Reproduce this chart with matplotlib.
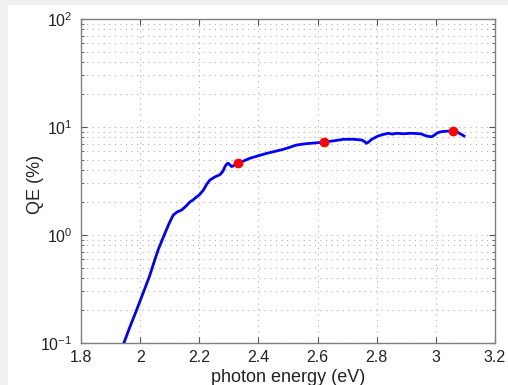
import matplotlib.pyplot as plt
from matplotlib.patches import Rectangle

# QE spectrum (photon energy in eV, QE in %)
energy = [1.945, 1.965, 1.988, 2.010, 2.031, 2.047, 2.061, 2.073, 2.084, 2.098,
          2.112, 2.126, 2.140, 2.155, 2.169, 2.178, 2.186, 2.200, 2.214, 2.225,
          2.236, 2.253, 2.270, 2.280, 2.287, 2.293, 2.298, 2.304, 2.310, 2.320,
          2.330, 2.350, 2.371, 2.400, 2.428, 2.456, 2.484, 2.507, 2.529, 2.560,
          2.603, 2.622, 2.655, 2.687, 2.720, 2.749, 2.758, 2.766, 2.775, 2.783,
          2.795, 2.805, 2.820, 2.839, 2.853, 2.868, 2.890, 2.913, 2.935, 2.952,
          2.960, 2.969, 2.978, 2.986, 2.995, 3.003, 3.012, 3.020, 3.040, 3.059,
          3.068, 3.076, 3.086, 3.095]
qe = [0.100, 0.140, 0.202, 0.290, 0.410, 0.560, 0.730, 0.880, 1.040, 1.280,
      1.530, 1.640, 1.700, 1.850, 2.030, 2.100, 2.200, 2.350, 2.610, 2.950,
      3.230, 3.450, 3.620, 3.900, 4.300, 4.550, 4.610, 4.450, 4.300, 4.450,
      4.610, 4.850, 5.130, 5.420, 5.700, 5.950, 6.210, 6.500, 6.810, 7.000,
      7.160, 7.260, 7.450, 7.690, 7.700, 7.580, 7.350, 7.060, 7.350, 7.690,
      8.000, 8.260, 8.500, 8.750, 8.600, 8.750, 8.650, 8.750, 8.700, 8.620,
      8.400, 8.260, 8.150, 8.130, 8.400, 8.750, 8.950, 9.060, 9.150, 9.250,
      9.150, 8.850, 8.550, 8.260]

# laser lines marked on the spectrum
laser_energy = [2.330, 2.622, 3.059]
laser_qe = [4.61, 7.26, 9.25]

plt.rcParams['font.family'] = ['Liberation Sans', 'DejaVu Sans']
plt.rcParams['mathtext.fontset'] = 'custom'
plt.rcParams['mathtext.rm'] = 'Liberation Sans'

fig = plt.figure(figsize=(5.08, 3.85), dpi=100, facecolor='#f0f0f0')
fig.patches.append(Rectangle((8 / 508, 0), 1, 1 - 5 / 385, transform=fig.transFigure,
                             facecolor='white', edgecolor='none', zorder=-1))
ax = fig.add_axes([81 / 508, 1 - 343 / 385, 414 / 508, 324 / 385])

ax.plot(energy, qe, color='blue', linewidth=2.0, zorder=3)
ax.plot(laser_energy, laser_qe, 'o', color='red', markersize=6, zorder=4)

ax.set_yscale('log')
ax.set_xlim(1.8, 3.2)
ax.set_ylim(0.1, 100)
ax.set_xticks([1.8, 2.0, 2.2, 2.4, 2.6, 2.8, 3.0, 3.2])
ax.set_xticklabels(['1.8', '2', '2.2', '2.4', '2.6', '2.8', '3', '3.2'])

ax.grid(True, which='major', color='#b0b0b0', linestyle=(0, (1, 4)), linewidth=0.8)
ax.grid(True, which='minor', axis='y', color='#b0b0b0', linestyle=(0, (1, 4)), linewidth=0.8)
ax.tick_params(which='both', direction='in', top=True, right=True, colors='#555555',
               labelcolor='#222222', labelsize=11.5)
ax.tick_params(which='major', length=4)
ax.tick_params(which='minor', length=2)
ax.tick_params(axis='y', which='major', pad=6)
ax.tick_params(axis='x', which='major', pad=5)
for side in ax.spines.values():
    side.set_color('#808080')
    side.set_linewidth(1.0)

ax.set_xlabel('photon energy (eV)', fontsize=13, color='#222222', labelpad=3)
ax.set_ylabel('QE (%)', fontsize=13, color='#222222')
ax.yaxis.set_label_coords(-0.09, 0.49)

fig.savefig('out.png', dpi=100, facecolor=fig.get_facecolor())
